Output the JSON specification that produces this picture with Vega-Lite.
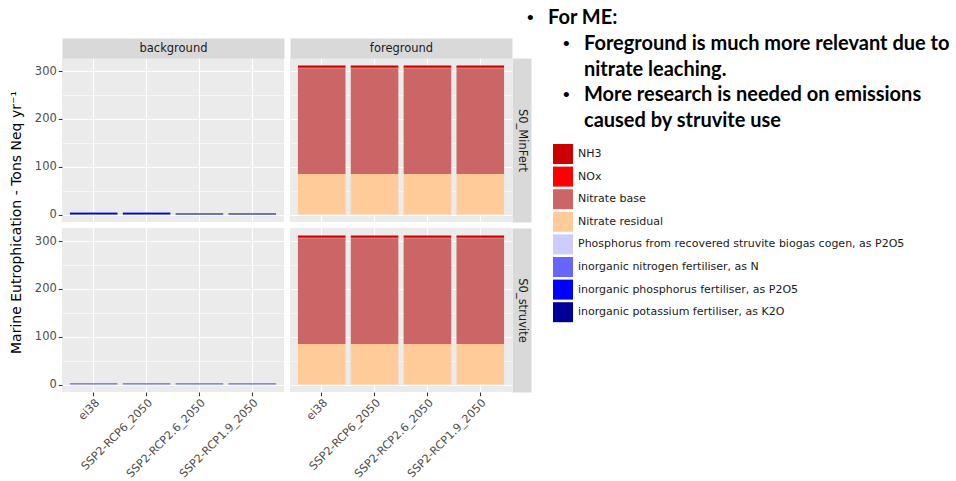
{
  "$schema": "https://vega.github.io/schema/vega-lite/v6.json",
  "background": "white",
  "padding": {"left": 8, "top": 8, "right": 0, "bottom": 0},
  "datasets": {
    "impacts": [
      {"scenario": "S0_MinFert", "part": "background", "database": "ei38", "flow": "inorganic nitrogen fertiliser, as N", "rank": 5, "value": 1.6},
      {"scenario": "S0_MinFert", "part": "background", "database": "ei38", "flow": "inorganic phosphorus fertiliser, as P2O5", "rank": 6, "value": 1.9},
      {"scenario": "S0_MinFert", "part": "background", "database": "ei38", "flow": "inorganic potassium fertiliser, as K2O", "rank": 7, "value": 1.3},
      {"scenario": "S0_MinFert", "part": "background", "database": "SSP2-RCP6_2050", "flow": "inorganic nitrogen fertiliser, as N", "rank": 5, "value": 1.6},
      {"scenario": "S0_MinFert", "part": "background", "database": "SSP2-RCP6_2050", "flow": "inorganic phosphorus fertiliser, as P2O5", "rank": 6, "value": 1.8},
      {"scenario": "S0_MinFert", "part": "background", "database": "SSP2-RCP6_2050", "flow": "inorganic potassium fertiliser, as K2O", "rank": 7, "value": 1.3},
      {"scenario": "S0_MinFert", "part": "background", "database": "SSP2-RCP2.6_2050", "flow": "inorganic nitrogen fertiliser, as N", "rank": 5, "value": 0.3},
      {"scenario": "S0_MinFert", "part": "background", "database": "SSP2-RCP2.6_2050", "flow": "inorganic phosphorus fertiliser, as P2O5", "rank": 6, "value": 1.4},
      {"scenario": "S0_MinFert", "part": "background", "database": "SSP2-RCP2.6_2050", "flow": "inorganic potassium fertiliser, as K2O", "rank": 7, "value": 0.9},
      {"scenario": "S0_MinFert", "part": "background", "database": "SSP2-RCP1.9_2050", "flow": "inorganic nitrogen fertiliser, as N", "rank": 5, "value": 0.3},
      {"scenario": "S0_MinFert", "part": "background", "database": "SSP2-RCP1.9_2050", "flow": "inorganic phosphorus fertiliser, as P2O5", "rank": 6, "value": 1.3},
      {"scenario": "S0_MinFert", "part": "background", "database": "SSP2-RCP1.9_2050", "flow": "inorganic potassium fertiliser, as K2O", "rank": 7, "value": 0.9},

      {"scenario": "S0_struvite", "part": "background", "database": "ei38", "flow": "Phosphorus from recovered struvite biogas cogen, as P2O5", "rank": 4, "value": 0.4},
      {"scenario": "S0_struvite", "part": "background", "database": "ei38", "flow": "inorganic nitrogen fertiliser, as N", "rank": 5, "value": 2.6},
      {"scenario": "S0_struvite", "part": "background", "database": "SSP2-RCP6_2050", "flow": "Phosphorus from recovered struvite biogas cogen, as P2O5", "rank": 4, "value": 0.4},
      {"scenario": "S0_struvite", "part": "background", "database": "SSP2-RCP6_2050", "flow": "inorganic nitrogen fertiliser, as N", "rank": 5, "value": 2.6},
      {"scenario": "S0_struvite", "part": "background", "database": "SSP2-RCP2.6_2050", "flow": "Phosphorus from recovered struvite biogas cogen, as P2O5", "rank": 4, "value": 0.4},
      {"scenario": "S0_struvite", "part": "background", "database": "SSP2-RCP2.6_2050", "flow": "inorganic nitrogen fertiliser, as N", "rank": 5, "value": 2.5},
      {"scenario": "S0_struvite", "part": "background", "database": "SSP2-RCP1.9_2050", "flow": "Phosphorus from recovered struvite biogas cogen, as P2O5", "rank": 4, "value": 0.4},
      {"scenario": "S0_struvite", "part": "background", "database": "SSP2-RCP1.9_2050", "flow": "inorganic nitrogen fertiliser, as N", "rank": 5, "value": 2.5},

      {"scenario": "S0_MinFert", "part": "foreground", "database": "ei38", "flow": "NH3", "rank": 0, "value": 3.3},
      {"scenario": "S0_MinFert", "part": "foreground", "database": "ei38", "flow": "NOx", "rank": 1, "value": 2.2},
      {"scenario": "S0_MinFert", "part": "foreground", "database": "ei38", "flow": "Nitrate base", "rank": 2, "value": 221.5},
      {"scenario": "S0_MinFert", "part": "foreground", "database": "ei38", "flow": "Nitrate residual", "rank": 3, "value": 84.8},
      {"scenario": "S0_MinFert", "part": "foreground", "database": "SSP2-RCP6_2050", "flow": "NH3", "rank": 0, "value": 3.3},
      {"scenario": "S0_MinFert", "part": "foreground", "database": "SSP2-RCP6_2050", "flow": "NOx", "rank": 1, "value": 2.2},
      {"scenario": "S0_MinFert", "part": "foreground", "database": "SSP2-RCP6_2050", "flow": "Nitrate base", "rank": 2, "value": 221.5},
      {"scenario": "S0_MinFert", "part": "foreground", "database": "SSP2-RCP6_2050", "flow": "Nitrate residual", "rank": 3, "value": 84.8},
      {"scenario": "S0_MinFert", "part": "foreground", "database": "SSP2-RCP2.6_2050", "flow": "NH3", "rank": 0, "value": 3.3},
      {"scenario": "S0_MinFert", "part": "foreground", "database": "SSP2-RCP2.6_2050", "flow": "NOx", "rank": 1, "value": 2.2},
      {"scenario": "S0_MinFert", "part": "foreground", "database": "SSP2-RCP2.6_2050", "flow": "Nitrate base", "rank": 2, "value": 221.5},
      {"scenario": "S0_MinFert", "part": "foreground", "database": "SSP2-RCP2.6_2050", "flow": "Nitrate residual", "rank": 3, "value": 84.8},
      {"scenario": "S0_MinFert", "part": "foreground", "database": "SSP2-RCP1.9_2050", "flow": "NH3", "rank": 0, "value": 3.3},
      {"scenario": "S0_MinFert", "part": "foreground", "database": "SSP2-RCP1.9_2050", "flow": "NOx", "rank": 1, "value": 2.2},
      {"scenario": "S0_MinFert", "part": "foreground", "database": "SSP2-RCP1.9_2050", "flow": "Nitrate base", "rank": 2, "value": 221.5},
      {"scenario": "S0_MinFert", "part": "foreground", "database": "SSP2-RCP1.9_2050", "flow": "Nitrate residual", "rank": 3, "value": 84.8},

      {"scenario": "S0_struvite", "part": "foreground", "database": "ei38", "flow": "NH3", "rank": 0, "value": 3.6},
      {"scenario": "S0_struvite", "part": "foreground", "database": "ei38", "flow": "NOx", "rank": 1, "value": 2.4},
      {"scenario": "S0_struvite", "part": "foreground", "database": "ei38", "flow": "Nitrate base", "rank": 2, "value": 221.2},
      {"scenario": "S0_struvite", "part": "foreground", "database": "ei38", "flow": "Nitrate residual", "rank": 3, "value": 84.8},
      {"scenario": "S0_struvite", "part": "foreground", "database": "SSP2-RCP6_2050", "flow": "NH3", "rank": 0, "value": 3.6},
      {"scenario": "S0_struvite", "part": "foreground", "database": "SSP2-RCP6_2050", "flow": "NOx", "rank": 1, "value": 2.4},
      {"scenario": "S0_struvite", "part": "foreground", "database": "SSP2-RCP6_2050", "flow": "Nitrate base", "rank": 2, "value": 221.2},
      {"scenario": "S0_struvite", "part": "foreground", "database": "SSP2-RCP6_2050", "flow": "Nitrate residual", "rank": 3, "value": 84.8},
      {"scenario": "S0_struvite", "part": "foreground", "database": "SSP2-RCP2.6_2050", "flow": "NH3", "rank": 0, "value": 3.6},
      {"scenario": "S0_struvite", "part": "foreground", "database": "SSP2-RCP2.6_2050", "flow": "NOx", "rank": 1, "value": 2.4},
      {"scenario": "S0_struvite", "part": "foreground", "database": "SSP2-RCP2.6_2050", "flow": "Nitrate base", "rank": 2, "value": 221.2},
      {"scenario": "S0_struvite", "part": "foreground", "database": "SSP2-RCP2.6_2050", "flow": "Nitrate residual", "rank": 3, "value": 84.8},
      {"scenario": "S0_struvite", "part": "foreground", "database": "SSP2-RCP1.9_2050", "flow": "NH3", "rank": 0, "value": 3.6},
      {"scenario": "S0_struvite", "part": "foreground", "database": "SSP2-RCP1.9_2050", "flow": "NOx", "rank": 1, "value": 2.4},
      {"scenario": "S0_struvite", "part": "foreground", "database": "SSP2-RCP1.9_2050", "flow": "Nitrate base", "rank": 2, "value": 221.2},
      {"scenario": "S0_struvite", "part": "foreground", "database": "SSP2-RCP1.9_2050", "flow": "Nitrate residual", "rank": 3, "value": 84.8}
    ],
    "notes": [
      {"line": 0, "level": 0, "bullet": true, "text": "For ME:"},
      {"line": 1, "level": 1, "bullet": true, "text": "Foreground is much more relevant due to"},
      {"line": 2, "level": 1, "bullet": false, "text": "nitrate leaching."},
      {"line": 3, "level": 1, "bullet": true, "text": "More research is needed on emissions"},
      {"line": 4, "level": 1, "bullet": false, "text": "caused by struvite use"}
    ]
  },
  "columns": 3,
  "spacing": 6,
  "bounds": "flush",
  "resolve": {
    "scale": {"x": "independent", "y": "independent", "fill": "shared"},
    "axis": {"x": "independent", "y": "independent"}
  },
  "concat": [
    {
      "width": 222,
      "height": 164,
      "data": {"name": "impacts"},
      "transform": [
        {"filter": {"field": "part", "equal": "background"}},
        {"filter": {"field": "scenario", "equal": "S0_MinFert"}}
      ],
      "mark": {"type": "bar"},
      "encoding": {
        "x": {
          "field": "database", "type": "nominal",
          "scale": {"domain": ["ei38", "SSP2-RCP6_2050", "SSP2-RCP2.6_2050", "SSP2-RCP1.9_2050"], "paddingInner": 0.1, "paddingOuter": 0.15},
          "axis": {"orient": "top", "title": "background", "labels": false, "ticks": false, "domain": true, "domainColor": "#D9D9D9", "domainWidth": 20, "offset": 10, "grid": true, "gridWidth": 1.1, "bandPosition": 0.5, "titleY": 0, "titleBaseline": "middle", "titleFontSize": 11.5, "titleColor": "#1A1A1A", "titleFontWeight": "normal"}
        },
        "y": {
          "field": "value", "type": "quantitative", "stack": "zero",
          "scale": {"domain": [-15.6, 327.6], "nice": false, "zero": false},
          "axis": {
            "orient": "left", "values": [0, 50, 100, 150, 200, 250, 300],
            "labelExpr": "datum.value % 100 === 0 ? datum.label : ''",
            "tickOpacity": {"condition": {"test": "datum.value % 100 === 0", "value": 1}, "value": 0},
            "grid": true,
            "gridWidth": {"condition": {"test": "datum.value % 100 === 0", "value": 1.1}, "value": 0.55},
            "labelPadding": 2,
            "title": "Marine Eutrophication - Tons Neq yr⁻¹",
            "titleX": -46, "titleY": 164, "titleAngle": 270, "titleBaseline": "middle", "titleAlign": "center",
            "titleFontSize": 14, "titleColor": "#000000", "titleFontWeight": "normal"
          }
        },
        "fill": {
          "field": "flow", "type": "nominal",
          "scale": {
            "domain": ["NH3", "NOx", "Nitrate base", "Nitrate residual", "Phosphorus from recovered struvite biogas cogen, as P2O5", "inorganic nitrogen fertiliser, as N", "inorganic phosphorus fertiliser, as P2O5", "inorganic potassium fertiliser, as K2O"],
            "range": ["#CC0000", "#FF0000", "#CC6666", "#FFCC99", "#CCCCFF", "#6666FF", "#0000FF", "#000099"]
          },
          "legend": {"orient": "none", "legendX": 491, "legendY": 86, "title": null, "symbolType": "square", "symbolSize": 400, "symbolStrokeWidth": 0, "symbolOpacity": 1, "rowPadding": 2.6, "labelOffset": 5, "labelFontSize": 11, "labelColor": "#1A1A1A", "labelLimit": 0, "padding": 0}
        },
        "order": {"field": "rank", "sort": "descending"}
      }
    },
    {
      "width": 222,
      "height": 164,
      "data": {"name": "impacts"},
      "transform": [
        {"filter": {"field": "part", "equal": "foreground"}},
        {"filter": {"field": "scenario", "equal": "S0_MinFert"}}
      ],
      "mark": {"type": "bar"},
      "encoding": {
        "x": {
          "field": "database", "type": "nominal",
          "scale": {"domain": ["ei38", "SSP2-RCP6_2050", "SSP2-RCP2.6_2050", "SSP2-RCP1.9_2050"], "paddingInner": 0.1, "paddingOuter": 0.15},
          "axis": {"orient": "top", "title": "foreground", "labels": false, "ticks": false, "domain": true, "domainColor": "#D9D9D9", "domainWidth": 20, "offset": 10, "grid": true, "gridWidth": 1.1, "bandPosition": 0.5, "titleY": 0, "titleBaseline": "middle", "titleFontSize": 11.5, "titleColor": "#1A1A1A", "titleFontWeight": "normal"}
        },
        "y": {
          "field": "value", "type": "quantitative", "stack": "zero",
          "scale": {"domain": [-15.6, 327.6], "nice": false, "zero": false},
          "axis": {
            "orient": "right", "values": [0, 50, 100, 150, 200, 250, 300],
            "labels": false, "ticks": false, "grid": true,
            "gridWidth": {"condition": {"test": "datum.value % 100 === 0", "value": 1.1}, "value": 0.55},
            "domain": true, "domainColor": "#D9D9D9", "domainWidth": 19, "offset": 9.5,
            "title": "S0_MinFert", "titleAngle": 90, "titleX": 0, "titleY": 82, "titleBaseline": "middle", "titleAlign": "center",
            "titleFontSize": 11.5, "titleColor": "#1A1A1A", "titleFontWeight": "normal"
          }
        },
        "fill": {
          "field": "flow", "type": "nominal",
          "scale": {
            "domain": ["NH3", "NOx", "Nitrate base", "Nitrate residual", "Phosphorus from recovered struvite biogas cogen, as P2O5", "inorganic nitrogen fertiliser, as N", "inorganic phosphorus fertiliser, as P2O5", "inorganic potassium fertiliser, as K2O"],
            "range": ["#CC0000", "#FF0000", "#CC6666", "#FFCC99", "#CCCCFF", "#6666FF", "#0000FF", "#000099"]
          },
          "legend": {"orient": "none", "legendX": 491, "legendY": 86, "title": null, "symbolType": "square", "symbolSize": 400, "symbolStrokeWidth": 0, "symbolOpacity": 1, "rowPadding": 2.6, "labelOffset": 5, "labelFontSize": 11, "labelColor": "#1A1A1A", "labelLimit": 0, "padding": 0}
        },
        "order": {"field": "rank", "sort": "descending"}
      }
    },
    {
      "width": 222,
      "height": 164,
      "view": {"fill": null, "stroke": null},
      "data": {"name": "notes"},
      "layer": [
        {
          "mark": {"type": "text", "align": "left", "baseline": "middle", "font": "Lato", "fontWeight": "bold", "fontSize": 20, "color": "#000000"},
          "encoding": {
            "x": {"field": "level", "type": "quantitative", "scale": {"domain": [0, 1], "range": [30, 66]}, "axis": null},
            "y": {"field": "line", "type": "quantitative", "scale": {"domain": [0, 4], "range": [-40, 63]}, "axis": null},
            "text": {"field": "text"}
          }
        },
        {
          "transform": [{"filter": "datum.bullet"}],
          "mark": {"type": "text", "align": "left", "baseline": "middle", "font": "Liberation Sans", "fontSize": 19, "dx": -21, "color": "#000000"},
          "encoding": {
            "x": {"field": "level", "type": "quantitative", "scale": {"domain": [0, 1], "range": [30, 66]}, "axis": null},
            "y": {"field": "line", "type": "quantitative", "scale": {"domain": [0, 4], "range": [-40, 63]}, "axis": null},
            "text": {"value": "•"}
          }
        }
      ]
    },
    {
      "width": 222,
      "height": 164,
      "data": {"name": "impacts"},
      "transform": [
        {"filter": {"field": "part", "equal": "background"}},
        {"filter": {"field": "scenario", "equal": "S0_struvite"}}
      ],
      "mark": {"type": "bar"},
      "encoding": {
        "x": {
          "field": "database", "type": "nominal",
          "scale": {"domain": ["ei38", "SSP2-RCP6_2050", "SSP2-RCP2.6_2050", "SSP2-RCP1.9_2050"], "paddingInner": 0.1, "paddingOuter": 0.15},
          "axis": {"orient": "bottom", "title": null, "labelAngle": -45, "labelAlign": "right", "labelBaseline": "top", "labelLimit": 0, "labelOverlap": false, "labelFontSize": 11.2, "grid": true, "gridWidth": 1.1, "bandPosition": 0.5, "labelPadding": 1}
        },
        "y": {
          "field": "value", "type": "quantitative", "stack": "zero",
          "scale": {"domain": [-15.6, 327.6], "nice": false, "zero": false},
          "axis": {
            "orient": "left", "values": [0, 50, 100, 150, 200, 250, 300],
            "labelExpr": "datum.value % 100 === 0 ? datum.label : ''",
            "tickOpacity": {"condition": {"test": "datum.value % 100 === 0", "value": 1}, "value": 0},
            "grid": true,
            "gridWidth": {"condition": {"test": "datum.value % 100 === 0", "value": 1.1}, "value": 0.55},
            "labelPadding": 2,
            "title": null
          }
        },
        "fill": {
          "field": "flow", "type": "nominal",
          "scale": {
            "domain": ["NH3", "NOx", "Nitrate base", "Nitrate residual", "Phosphorus from recovered struvite biogas cogen, as P2O5", "inorganic nitrogen fertiliser, as N", "inorganic phosphorus fertiliser, as P2O5", "inorganic potassium fertiliser, as K2O"],
            "range": ["#CC0000", "#FF0000", "#CC6666", "#FFCC99", "#CCCCFF", "#6666FF", "#0000FF", "#000099"]
          },
          "legend": {"orient": "none", "legendX": 491, "legendY": 86, "title": null, "symbolType": "square", "symbolSize": 400, "symbolStrokeWidth": 0, "symbolOpacity": 1, "rowPadding": 2.6, "labelOffset": 5, "labelFontSize": 11, "labelColor": "#1A1A1A", "labelLimit": 0, "padding": 0}
        },
        "order": {"field": "rank", "sort": "descending"}
      }
    },
    {
      "width": 222,
      "height": 164,
      "data": {"name": "impacts"},
      "transform": [
        {"filter": {"field": "part", "equal": "foreground"}},
        {"filter": {"field": "scenario", "equal": "S0_struvite"}}
      ],
      "mark": {"type": "bar"},
      "encoding": {
        "x": {
          "field": "database", "type": "nominal",
          "scale": {"domain": ["ei38", "SSP2-RCP6_2050", "SSP2-RCP2.6_2050", "SSP2-RCP1.9_2050"], "paddingInner": 0.1, "paddingOuter": 0.15},
          "axis": {"orient": "bottom", "title": null, "labelAngle": -45, "labelAlign": "right", "labelBaseline": "top", "labelLimit": 0, "labelOverlap": false, "labelFontSize": 11.2, "grid": true, "gridWidth": 1.1, "bandPosition": 0.5, "labelPadding": 1}
        },
        "y": {
          "field": "value", "type": "quantitative", "stack": "zero",
          "scale": {"domain": [-15.6, 327.6], "nice": false, "zero": false},
          "axis": {
            "orient": "right", "values": [0, 50, 100, 150, 200, 250, 300],
            "labels": false, "ticks": false, "grid": true,
            "gridWidth": {"condition": {"test": "datum.value % 100 === 0", "value": 1.1}, "value": 0.55},
            "domain": true, "domainColor": "#D9D9D9", "domainWidth": 19, "offset": 9.5,
            "title": "S0_struvite", "titleAngle": 90, "titleX": 0, "titleY": 82, "titleBaseline": "middle", "titleAlign": "center",
            "titleFontSize": 11.5, "titleColor": "#1A1A1A", "titleFontWeight": "normal"
          }
        },
        "fill": {
          "field": "flow", "type": "nominal",
          "scale": {
            "domain": ["NH3", "NOx", "Nitrate base", "Nitrate residual", "Phosphorus from recovered struvite biogas cogen, as P2O5", "inorganic nitrogen fertiliser, as N", "inorganic phosphorus fertiliser, as P2O5", "inorganic potassium fertiliser, as K2O"],
            "range": ["#CC0000", "#FF0000", "#CC6666", "#FFCC99", "#CCCCFF", "#6666FF", "#0000FF", "#000099"]
          },
          "legend": {"orient": "none", "legendX": 491, "legendY": 86, "title": null, "symbolType": "square", "symbolSize": 400, "symbolStrokeWidth": 0, "symbolOpacity": 1, "rowPadding": 2.6, "labelOffset": 5, "labelFontSize": 11, "labelColor": "#1A1A1A", "labelLimit": 0, "padding": 0}
        },
        "order": {"field": "rank", "sort": "descending"}
      }
    }
  ],
  "config": {
    "font": "DejaVu Sans",
    "view": {"fill": "#EBEBEB", "stroke": null},
    "axis": {
      "labelFont": "DejaVu Sans", "labelFontSize": 11.5, "labelColor": "#4D4D4D",
      "tickColor": "#333333", "tickSize": 3.7, "tickWidth": 1,
      "domain": false, "gridColor": "#FFFFFF", "gridOpacity": 1,
      "titleFont": "DejaVu Sans"
    },
    "legend": {"labelFont": "DejaVu Sans"}
  }
}
